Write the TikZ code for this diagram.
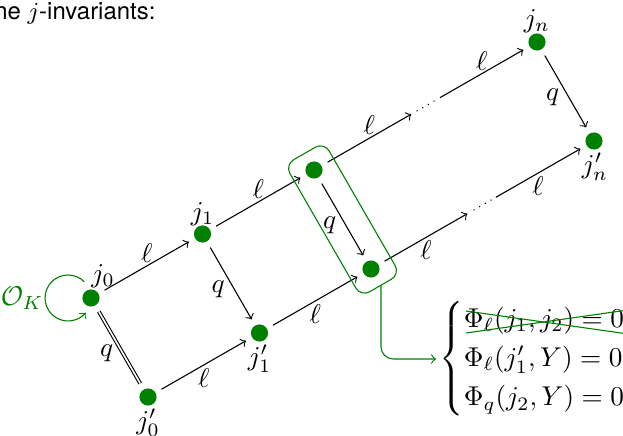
\documentclass[tikz,border=0pt]{standalone}
\usepackage{amsmath}
\usepackage{fontspec}
\newfontfamily\heros{TeX Gyre Heros}
\usetikzlibrary{calc}
\definecolor{dgreen}{rgb}{0,0.5,0}
\begin{document}
\begin{tikzpicture}[x=0.3676pt,y=-0.3676pt,
  dot/.style={circle, fill=dgreen, inner sep=0pt, minimum size=6.3pt, outer sep=2.6pt},
  jlab/.style={inner sep=0pt},
  elab/.style={inner sep=1pt},
  qlab/.style={inner sep=3.33pt},
  arr/.style={->},
  hl/.style={draw=dgreen, rounded corners=3.7pt}]
\useasboundingbox (0,0) rectangle (623,436);

% title (cut at the left edge)
\node[anchor=base east, inner sep=0pt, font=\heros\fontsize{8.8}{11}\selectfont] (title) at (156,20) {the $j$-invariants:};

% vertices
\node[dot] (j0)  at (91,298) {};
\node[dot] (j1)  at (202.5,234) {};
\node[dot] (j2)  at (314,170) {};
\node[dot] (jn)  at (537,42) {};
\node[dot] (j0p) at (148,397) {};
\node[dot] (j1p) at (259.5,333) {};
\node[dot] (j2p) at (371,269) {};
\node[dot] (jnp) at (594,141) {};

% vertex labels
\node[jlab] (lj0)  at ([shift={(12,-22)}]j0.center) {$j_0$};
\node[jlab] (lj1)  at ([shift={(0,-20)}]j1.center) {$j_1$};
\node[jlab] (ljn)  at ([shift={(0,-21)}]jn.center) {$j_n$};
\node[jlab] (lj0p) at ([shift={(0,26)}]j0p.center) {$j_0'$};
\node[jlab] (lj1p) at ([shift={(0,26)}]j1p.center) {$j_1'$};
\node[jlab] (ljnp) at ([shift={(1,26)}]jnp.center) {$j_n'$};

% l-edges
\draw[arr] (j0) -- node[elab, above] {$\ell$} (j1);
\draw[arr] (j1) -- node[elab, above] {$\ell$} (j2);
\draw[arr] (j0p) -- node[elab, below] {$\ell$} (j1p);
\draw[arr] (j1p) -- node[elab, below] {$\ell$} (j2p);

% dotted continuations
\coordinate (u1) at ($(j2)!0.436!(jn)$);
\coordinate (u2) at ($(j2)!0.46!(jn)$);
\coordinate (u3) at ($(j2)!0.55!(jn)$);
\coordinate (u4) at ($(j2)!0.565!(jn)$);
\draw[arr] (j2) -- node[elab, above] {$\ell$} (u1);
\draw[dotted] (u2) -- (u3);
\draw[arr] (u4) -- node[elab, above] {$\ell$} (jn);

\coordinate (w1) at ($(j2p)!0.432!(jnp)$);
\coordinate (w2) at ($(j2p)!0.46!(jnp)$);
\coordinate (w3) at ($(j2p)!0.55!(jnp)$);
\coordinate (w4) at ($(j2p)!0.56!(jnp)$);
\draw[arr] (j2p) -- node[elab, below] {$\ell$} (w1);
\draw[dotted] (w2) -- (w3);
\draw[arr] (w4) -- node[elab, below] {$\ell$} (jnp);

% q-edges
\draw[double] (j0) -- node[qlab, left, pos=0.58] {$q$} (j0p);
\draw[arr] (j1) -- node[qlab, left, pos=0.58] {$q$} (j1p);
\draw[arr] (j2) -- node[qlab, left, pos=0.58] {$q$} (j2p);
\draw[arr] (jn) -- node[qlab, left, pos=0.58] {$q$} (jnp);

% O_K loop
\draw[->, dgreen] ([shift={(-2.47pt,5.98pt)}]j0.center) arc[start angle=45, end angle=320, radius=8.45pt];
\node[anchor=east, inner sep=0.5pt, text=dgreen] (ok) at ([xshift=-16.8pt]j0.center) {$\mathcal{O}_K$};

% highlight box
\draw[hl] ([shift={(-29.1,-5.2)}]j2.center) -- ([shift={(10.1,-27.8)}]j2.center)
  -- ([shift={(29.1,5.2)}]j2p.center) -- ([shift={(-10.1,27.8)}]j2p.center) -- cycle;
\coordinate (boxbot) at ([shift={(10,16.2)}]j2p.center);

% system
\node[anchor=west, inner sep=1.2pt] (sys) at (436,359) {$\begin{cases}\Phi_\ell(j_1,j_2)=0\\ \Phi_\ell(j_1',Y)=0\\ \Phi_q(j_2,Y)=0\end{cases}$};
\draw[->, dgreen, rounded corners=4.5pt] (boxbot) |- (sys.west);
\draw[dgreen] (466,311) -- (628,334);
\draw[dgreen] (466,333) -- (628,310);
\end{tikzpicture}
\end{document}
